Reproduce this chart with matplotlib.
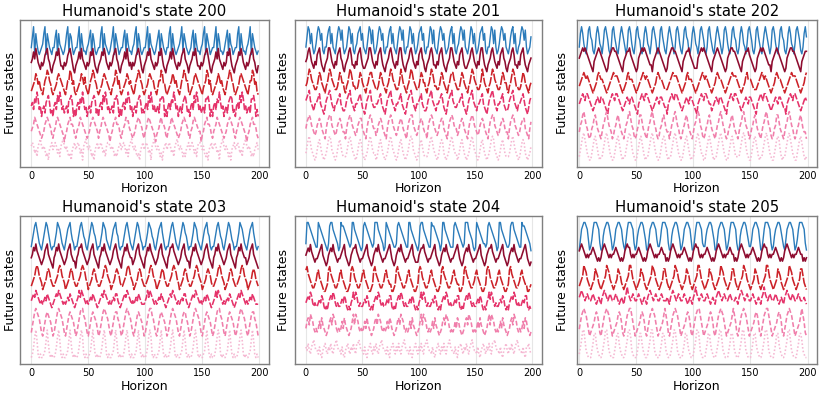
import numpy as np
import matplotlib
matplotlib.use("Agg")
import matplotlib.pyplot as plt

# each series is typed as a string of levels 0-9, one char per horizon step
states = [200, 201, 202, 203, 204, 205]

state_200 = [
    "3691742123 4791753213 3681743212 4792763123 3691742213 4681752123 3791743212 4691753123 3682742213 4791752123 "
    "3691743212 4681753213 3791742123 4692753212 3681742213 4791753123 3691752212 4682743123 3791742213 4691753212",
    "5686975435 4578965324 5687964435 4578975324 5686965435 4587964324 5687975435 4578965324 5686964535 4578975324 "
    "5687965435 4587964324 5686975435 4578965424 5687964435 4578975324 5686965435 4587964324 5687975435 4578965324",
    "3456875643 2467986532 3457876543 2466985632 3456875743 2467986532 3457876543 2456985632 3456875643 2467986532 "
    "3457876643 2466985532 3456875643 2467986632 3457876543 2456985632 3456875643 2467986532 3457876543 2466985632",
    "5647697452 4536786342 5648697453 4537786242 5647696452 4536787342 5648697453 4537786242 5647697452 4536786343 "
    "5648696453 4537787242 5647697452 4536786342 5648697453 4537786242 5647696452 4536787342 5648697453 4537786242",
    "4568765432 3467876532 4578765431 3467866532 4568765432 3467876542 4578765431 3467866532 4568775432 3467876532 "
    "4578765431 3457866532 4568765432 3467876532 4578765441 3467866532 4568765432 3467876532 4578765431 3467866532",
    "6764536786 5653425675 6764536786 5643425675 6764526786 5653425675 6764536776 5653435675 6764536786 5643425675 "
    "6764526786 5653425675 6764536786 5653435675 6764536776 5643425675 6764526786 5653425675 6764536786 5653435675",
]

state_201 = [
    "369847312 479857213 368947321 479858312 369847213 478957321 369848312 479857213 368947321 479858213 369847312 "
    "478957213 369848321 479857312 368947213 479858321 369847312 478957213 369848312 479857321 368947213 479858312 36",
    "568975435 478964324 569975435 478965324 568974435 478964334 569975435 478964324 568975435 479964324 568975435 "
    "478965324 568974435 478964324 569975435 478964334 568975435 479964324 568975435 478965324 568974435 478964324 56",
    "457986543 346875432 457986543 346875532 457986443 346875432 457886543 346875432 457986543 346975432 457986543 "
    "346875532 457986443 346875432 457886543 346875432 457986543 346975432 457986543 346875532 457986443 346875432 45",
    "678965435 567854324 678975435 567854334 678965435 567864324 678965445 567854324 678965435 567854324 678975435 "
    "567854334 678965435 567864324 678965445 567854324 678965435 567854324 678975435 567854334 678965435 567864324 67",
    "467875432 356764321 467885432 356764331 467875432 356774321 467875442 356764321 467875432 356764321 467885432 "
    "356764331 467875432 356774321 467875442 356764321 467875432 356764321 467885432 356764331 467875432 356774321 46",
    "357864321 246753212 357874321 246753222 357864321 246763212 357864331 246753212 357864321 246753212 357874321 "
    "246753222 357864321 246763212 357864331 246753212 357864321 246753212 357874321 246753222 357864321 246763212 35",
]

state_202 = [
    "3797421 4896521 3797431 4897521 3896421 4797531 3897421 4896521 3797431 4897521 3896421 4797531 3897421 4896521 "
    "3797431 4897521 3896421 4797531 3897421 4896521 3797431 4897521 3896421 4797531 3897421 4896521 3797431 4897521 3796",
    "6789898765432 5678987654323 6789988765432 5678897654323 6789898765442 5678987654323 6789988765432 5678897654333 "
    "6789898765432 5678987654323 6789988765432 5678897654323 6789898765442 5678987654323 6789988765432 56788",
    "4567876765432 3457876654323 4567877765432 3457866654323 4567876765432 3457876654333 4567877765432 3457866654323 "
    "4567876765432 3457876654323 4567877765432 3457866654333 4567876765432 3457876654323 4567877765432 34578",
    "5678768876543 4567657765432 5678768876543 4567657765432 5678768876543 4567657765442 5678768876543 4567657765432 "
    "5678768876553 4567657765432 5678768876543 4567657765432 5678768876543 4567657765442 5678768876543 45676",
    "3568975421 2457864321 3568975431 2457864321 3568975421 2458864321 3568975421 2457864331 3568975421 2457864321 "
    "3568985421 2457864321 3568975421 2457864321 3568975431 2457864321 3568975421 2458864321 3568975421 2457864331",
    "2468975321 1357864212 2468975321 1357864212 2468985321 1357864212 2468975321 1357874212 2468975321 1357864212 "
    "2468975331 1357864212 2468975321 1357864222 2468985321 1357864212 2468975321 1357874212 2468975321 1357864212",
]

state_203 = [
    "2468975321 3579864212 2469875321 3578964312 2468975421 3579865312 2469874321 3578965212 2468975321 3579864312 "
    "2469875421 3578964212 2468975321 3579865312 2469874321 3578965212 2468975421 3579864312 2469875321 3578964212",
    "5687976543 4578965432 5687976543 4578965442 5688976543 4578965432 5687976543 4578975432 5687976553 4578965432 "
    "5687976543 4578965432 5688976543 4578965442 5687976543 4578975432 5687976543 4578965432 5687976553 4578965432",
    "3456898654 2345787543 3456898654 2345787543 3456898754 2345787543 3456898654 2345787643 3456898654 2345787543 "
    "3456898654 2345787543 3456898754 2345787543 3456898654 2345787643 3456898654 2345787543 3456898654 2345787543",
    "5676876545 4565765434 5676876545 4565765434 5686876545 4565765434 5676876545 4565775434 5676876545 4565765444 "
    "5686876545 4565765434 5676876545 4565775434 5676876545 4565765434 5686876545 4565765434 5676876545 4565765444",
    "2468987642 1357876531 2468987642 1357876531 2468997642 1357876531 2468987642 1357886531 2468987642 1357876531 "
    "2468997642 1357876531 2468987642 1357886531 2468987642 1357876531 2468997642 1357876531 2468987642 1357886531",
    "1247962121 1236952121 1247962121 1236952121 1247972121 1236952121 1247962121 1236962121 1247962121 1236952121 "
    "1247972121 1236952121 1247962121 1236962121 1247962121 1236952121 1247972121 1236952121 1247962121 1236962121",
]

state_204 = [
    "3998765432 2987654321 3899765431 2988765432 3997654321 2898765432 3999765431 2987654322 3898765432 2997654321 "
    "3899765432 2988765431 3997654322 2898765432 3999765421 2987654332 3898765431 2997654322 3899765432 2988765431",
    "6787976545 5678965434 6787976545 5678965434 6788976545 5678965434 6787976545 5678975434 6787976545 5678965444 "
    "6788976545 5678965434 6787976545 5678975434 6787976545 5678965434 6788976545 5678965434 6787976545 5678975434",
    "8976543345 7865432234 8976543345 7865432234 8986543345 7865432234 8976543345 7865442234 8976543345 7865432234 "
    "8986543345 7865432234 8976543345 7865442234 8976543345 7865432234 8986543345 7865432234 8976543345 7865442234",
    "5676875454 4565764343 5676875454 4565764343 5686875454 4565764343 5676875454 4565774343 5676875454 4565764343 "
    "5686875454 4565764343 5676875454 4565774343 5676875454 4565764343 5686875454 4565764343 5676875454 4565774343",
    "4675876434 3464754323 4675876434 3464754323 4685876434 3464754323 4675876434 3464764323 4675876434 3464754323 "
    "4685876434 3464754323 4675876434 3464764323 4675876434 3464754323 4685876434 3464754323 4675876434 3464764323",
    "5464356754 4353245643 5464356754 4353245643 5464366754 4353245643 5464356754 4353255643 5464356754 4353245643 "
    "5464366754 4353245643 5464356754 4353255643 5464356754 4353245643 5464366754 4353245643 5464356754 4353255643",
]

state_205 = [
    "1478998741 2479998731 1578998641 2478998742 1479998731 2578998641 1478998742 2479998731 1578998641 2478998741 "
    "1479998732 2578998641 1478998741 2479998731 1578998642 2478998741 1479998731 2578998642 1478998741 2479998731",
    "7898765656 6787654545 7898765656 6787654545 7898865656 6787654545 7898765656 6787664545 7898765656 6787654545 "
    "7898865656 6787654545 7898765656 6787664545 7898765656 6787654545 7898865656 6787654545 7898765656 6787664545",
    "3456987543 2345876432 3456987543 2345876432 3456997543 2345876432 3456987543 2345886432 3456987543 2345876432 "
    "3456997543 2345876432 3456987543 2345886432 3456987543 2345876432 3456997543 2345876432 3456987543 2345886432",
    "6787656765 5676545654 6787656765 5676545654 6797656765 5676545654 6787656765 5676555654 6787656765 5676545654 "
    "6797656765 5676545654 6787656765 5676555654 6787656765 5676545654 6797656765 5676545654 6787656765 5676555654",
    "3578987531 2345787521 3578987531 2345787521 3578997531 2345787521 3578987531 2345797521 3578987531 2345787521 "
    "3578997531 2345787521 3578987531 2345797521 3578987531 2345787521 3578997531 2345787521 3578987531 2345797521",
    "2469963211 1358853211 2469963211 1358853211 2469973211 1358853211 2469963211 1358863211 2469963211 1358853211 "
    "2469973211 1358853211 2469963211 1358863211 2469963211 1358853211 2469973211 1358853211 2469963211 1358863211",
]

all_states = [state_200, state_201, state_202, state_203, state_204, state_205]

colors = ["#2b7bba", "#8e0c2f", "#cc2229", "#e5336a", "#f07fab", "#f5b8d2"]
styles = ["-", "-", (0, (6, 1)), (0, (4, 1.2)), (0, (3, 1.5)), (0, (1, 1.3))]
widths = [1.0, 1.15, 1.15, 1.15, 1.15, 1.15]


def parse(s):
    return np.array([int(c) for c in s if c.isdigit()], dtype=float)


fig = plt.figure(figsize=(8.22, 3.96), dpi=100)

col_left = [20 / 822, 294.7 / 822, 577 / 822]
col_width = [249 / 822, 247 / 822, 239.7 / 822]
row_bottom = [1 - 166.7 / 396, 1 - 364.3 / 396]
row_height = [146.7 / 396, 148.6 / 396]
label_pad = [2, 3.5, 6]

for k, (state, series) in enumerate(zip(states, all_states)):
    r, c = divmod(k, 3)
    ax = fig.add_axes([col_left[c], row_bottom[r], col_width[c], row_height[r]])
    for i, s in enumerate(series):
        v = parse(s)
        y = (5 - i) * 10 + v * 1.6
        ax.plot(np.arange(len(v)), y, color=colors[i], linestyle=styles[i], lw=widths[i])
    if c == 2:
        ax.set_xlim(-2, 208)
    else:
        ax.set_xlim(-9.9, 208.5)
    ax.set_xticks([0, 50, 100, 150, 200])
    ax.set_yticks([])
    ax.grid(axis="x", color="#e6e6e6", lw=0.8)
    ax.set_axisbelow(True)
    ax.tick_params(axis="x", length=0, pad=3, labelsize=7)
    for sp in ax.spines.values():
        sp.set_color("#7f7f7f")
        sp.set_linewidth(1.0)
    ax.set_title(f"Humanoid's state {state}", fontsize=10.7, pad=3)
    ax.set_xlabel("Horizon", fontsize=9, labelpad=1)
    ax.set_ylabel("Future states", fontsize=9, labelpad=label_pad[c])

fig.savefig("out.png", dpi=100)
